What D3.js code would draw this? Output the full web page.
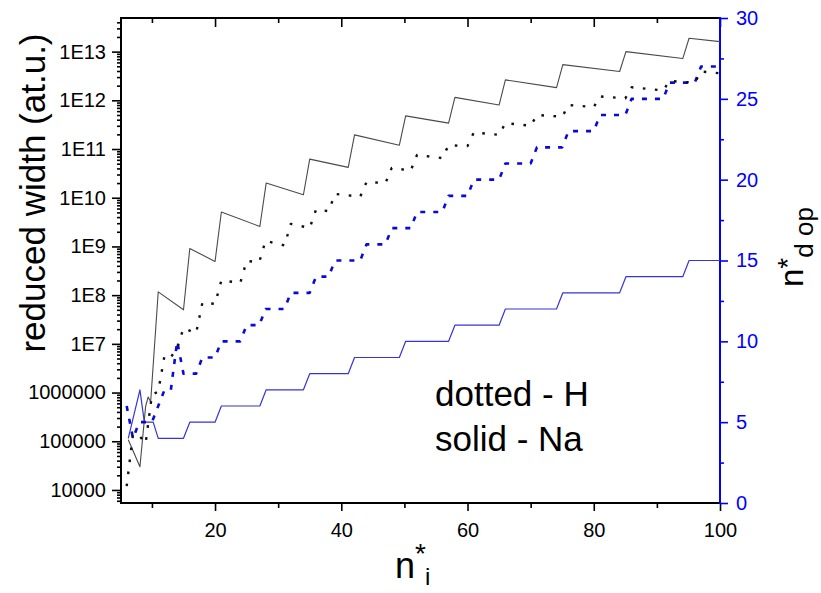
<!DOCTYPE html>
<html><head><meta charset="utf-8">
<script src="https://cdn.jsdelivr.net/npm/d3@7"></script>
<style>
html,body{margin:0;padding:0;background:#fff;}
svg{display:block;font-family:"Liberation Sans",Arial,Helvetica,sans-serif;}
</style></head><body>
<svg id="chart" width="821" height="593"></svg>
<script>
// Na: reduced width (left axis) and n*d op (right axis), vertices of the curves
const naWidthX = [6.25, 8.1, 9.0, 9.4, 9.8, 11.0, 15.0, 16.0, 20.0, 21.0, 27.1, 28.1, 34.0, 35.0, 41.1, 42.1, 49.2, 50.2, 57.0, 58.0, 65.0, 66.0, 74.1, 75.1, 84.1, 85.1, 94.1, 95.1, 100];
const naWidth  = [1.07e5, 3.0e4, 5.2e5, 8.1e5, 6.5e5, 1.17e8, 5.0e7, 9.1e8, 4.9e8, 5.1e9, 2.57e9, 2.0e10, 1.15e10, 6.2e10, 4.2e10, 1.95e11, 1.2e11, 4.8e11, 3.4e11, 1.15e12, 8.0e11, 2.63e12, 1.82e12, 5.4e12, 3.9e12, 1.0e13, 7.2e12, 1.88e13, 1.6e13];
const naDopX = [6.25, 8.1, 8.8, 10.2, 11.0, 15.0, 16.0, 20.0, 21.0, 27.1, 28.1, 34.0, 35.0, 41.1, 42.1, 49.2, 50.2, 57.0, 58.0, 65.0, 66.0, 74.1, 75.1, 84.1, 85.1, 94.1, 95.1, 100];
const naDop  = [4, 7, 5, 5, 4, 4, 5, 5, 6, 6, 7, 7, 8, 8, 9, 9, 10, 10, 11, 11, 12, 12, 13, 13, 14, 14, 15, 15];

// H: reduced width (left axis) and n*d op (right axis)
const hWidthX = [6, 7, 8, 9, 10, 11, 12, 13, 14, 15, 17, 18, 20, 21, 24, 25, 27, 28, 31, 32, 35, 36, 38, 39, 43, 44, 47, 48, 51, 52, 56, 57, 60, 61, 65, 66, 70, 71, 75, 76, 80, 81, 85, 86, 91, 92, 96, 97, 100];
const hWidth  = [1.2e4, 1.4e5, 1.3e5, 9e4, 9e5, 1.05e6, 5.8e6, 5.3e6, 8.2e6, 2.1e7, 1.65e7, 7e7, 6.6e7, 2.0e8, 1.8e8, 5.0e8, 4.8e8, 1.3e9, 1.05e9, 2.9e9, 2.4e9, 5.7e9, 5.3e9, 1.2e10, 1.05e10, 2.1e10, 2.0e10, 4.1e10, 3.6e10, 7.6e10, 6.5e10, 1.2e11, 1.15e11, 2.2e11, 1.95e11, 3.4e11, 3.0e11, 5.0e11, 4.6e11, 8.0e11, 7.3e11, 1.2e12, 1.1e12, 1.85e12, 1.6e12, 2.5e12, 2.3e12, 3.9e12, 3.6e12];
const hDopX = [6, 7, 8, 10, 11, 12, 13, 14, 15, 17, 18, 20, 21, 24, 25, 27, 28, 31, 32, 35, 36, 38, 39, 43, 44, 47, 48, 51, 52, 56, 57, 60, 61, 65, 66, 70, 71, 75, 76, 80, 81, 85, 86, 91, 92, 96, 97, 100];
const hDop  = [6, 4, 5, 5, 6, 7, 7, 10, 8, 8, 9, 9, 10, 10, 11, 11, 12, 12, 13, 13, 14, 14, 15, 15, 16, 16, 17, 17, 18, 18, 19, 19, 20, 20, 21, 21, 22, 22, 23, 23, 24, 24, 25, 25, 26, 26, 27, 27];

// axis ticks
const xTicks = [20, 40, 60, 80, 100];
const xMinorTicks = [10, 30, 50, 70, 90];
const leftTicks = [1e4, 1e5, 1e6, 1e7, 1e8, 1e9, 1e10, 1e11, 1e12, 1e13];
const leftTickLabels = ["10000", "100000", "1000000", "1E7", "1E8", "1E9", "1E10", "1E11", "1E12", "1E13"];
const rightTicks = [0, 5, 10, 15, 20, 25, 30];
const rightMinorTicks = [2.5, 7.5, 12.5, 17.5, 22.5, 27.5];

const plot = {left: 121, right: 720, top: 18, bottom: 503};
const BLUE = "#0000ff";

const svg = d3.select("#chart");
svg.append("rect").attr("width", 821).attr("height", 593).attr("fill", "#fff");

const x = d3.scaleLinear().domain([5.1, 100]).range([plot.left, plot.right]);
const yL = d3.scaleLog().domain([5.4e3, 4.9e13]).range([plot.bottom, plot.top]);
const yR = d3.scaleLinear().domain([0, 30]).range([plot.bottom, plot.top]);

// minor log ticks between decades
const leftMinor = [];
for (let e = 3; e <= 13; e++) for (let k = 2; k <= 9; k++) {
  const v = k * Math.pow(10, e);
  if (v > yL.domain()[0] && v < yL.domain()[1]) leftMinor.push(v);
}

function styleAxis(g, color) {
  g.select(".domain").remove();
  g.selectAll(".tick line").attr("stroke", color).attr("stroke-width", 1.6);
  g.selectAll(".tick text").attr("fill", color).style("font-size", "20px")
    .style("font-family", '"Liberation Sans",Arial,sans-serif');
}

// left axis
svg.append("g").attr("transform", `translate(${plot.left},0)`)
  .call(d3.axisLeft(yL).tickValues(leftMinor).tickSize(4).tickFormat(""))
  .call(g => styleAxis(g, "#000"));
svg.append("g").attr("transform", `translate(${plot.left},0)`)
  .call(d3.axisLeft(yL).tickValues(leftTicks).tickSize(9).tickPadding(6)
    .tickFormat((d, i) => leftTickLabels[i]))
  .call(g => styleAxis(g, "#000"));

// bottom axis
svg.append("g").attr("transform", `translate(0,${plot.bottom})`)
  .call(d3.axisBottom(x).tickValues(xMinorTicks).tickSize(5).tickFormat(""))
  .call(g => styleAxis(g, "#000"));
svg.append("g").attr("transform", `translate(0,${plot.bottom})`)
  .call(d3.axisBottom(x).tickValues(xTicks).tickSize(8).tickPadding(12))
  .call(g => styleAxis(g, "#000"));

// top axis, ticks pointing inward
svg.append("g").attr("transform", `translate(0,${plot.top})`)
  .call(d3.axisTop(x).tickValues(xMinorTicks).tickSize(-5).tickFormat(""))
  .call(g => styleAxis(g, "#000"));
svg.append("g").attr("transform", `translate(0,${plot.top})`)
  .call(d3.axisTop(x).tickValues(xTicks).tickSize(-9).tickFormat(""))
  .call(g => styleAxis(g, "#000"));

// right axis
svg.append("g").attr("transform", `translate(${plot.right},0)`)
  .call(d3.axisRight(yR).tickValues(rightMinorTicks).tickSize(4).tickFormat(""))
  .call(g => styleAxis(g, BLUE));
svg.append("g").attr("transform", `translate(${plot.right},0)`)
  .call(d3.axisRight(yR).tickValues(rightTicks).tickSize(8).tickPadding(8))
  .call(g => styleAxis(g, BLUE));

// frame
const frame = svg.append("g");
frame.append("line").attr("x1", plot.left).attr("x2", plot.right + 1).attr("y1", plot.top).attr("y2", plot.top)
  .attr("stroke", "#000").attr("stroke-width", 2);
frame.append("line").attr("x1", plot.left).attr("x2", plot.right).attr("y1", plot.bottom).attr("y2", plot.bottom)
  .attr("stroke", "#000").attr("stroke-width", 2);
frame.append("line").attr("x1", plot.left).attr("x2", plot.left).attr("y1", plot.top - 1).attr("y2", plot.bottom + 1)
  .attr("stroke", "#000").attr("stroke-width", 2);
frame.append("line").attr("x1", plot.right).attr("x2", plot.right).attr("y1", plot.top - 1).attr("y2", plot.bottom + 1)
  .attr("stroke", BLUE).attr("stroke-width", 2);

// curves
svg.append("clipPath").attr("id", "clip").append("rect")
  .attr("x", plot.left).attr("y", plot.top).attr("width", plot.right - plot.left).attr("height", plot.bottom - plot.top);
const curves = svg.append("g").attr("clip-path", "url(#clip)");

function drawLine(xs, ys, yScale, stroke, width, dash) {
  const pts = xs.map((d, i) => [x(d), yScale(ys[i])]);
  const p = curves.append("path").attr("d", d3.line()(pts))
    .attr("fill", "none").attr("stroke", stroke).attr("stroke-width", width)
    .attr("stroke-linejoin", "round");
  if (dash) p.attr("stroke-dasharray", dash);
}

drawLine(naDopX, naDop, yR, "#3535d6", 1.2, null);
drawLine(naWidthX, naWidth, yL, "#4a4a4a", 1.1, null);
drawLine(hDopX, hDop, yR, "#0a0ad8", 2.6, "5,8");
drawLine(hWidthX, hWidth, yL, "#111", 2.4, "2.6,9.5");

// annotation
const note = svg.append("g").style("font-size", "35px").attr("fill", "#000");
note.append("text").attr("x", 435).attr("y", 406).text("dotted - H");
note.append("text").attr("x", 435).attr("y", 451).text("solid - Na");

// left axis title
svg.append("text").attr("transform", "translate(45,193) rotate(-90)")
  .attr("text-anchor", "middle").style("font-size", "35px").attr("fill", "#000")
  .text("reduced width (at.u.)");

// bottom axis title: n*_i
const xt = svg.append("text").attr("x", 395).attr("y", 578).attr("fill", "#000").style("font-size", "36px");
xt.append("tspan").text("n");
xt.append("tspan").attr("dy", -15).style("font-size", "28px").text("*");
xt.append("tspan").attr("dy", 22).attr("dx", -1).style("font-size", "24px").text("i");

// right axis title: n*_d op
const rt = svg.append("text").attr("transform", "translate(803,287) rotate(-90)")
  .attr("fill", "#000").style("font-size", "33px");
rt.append("tspan").text("n");
rt.append("tspan").attr("dy", -6).style("font-size", "28px").text("*");
rt.append("tspan").attr("dy", 16).style("font-size", "26px").text("d op");
</script>
</body></html>
